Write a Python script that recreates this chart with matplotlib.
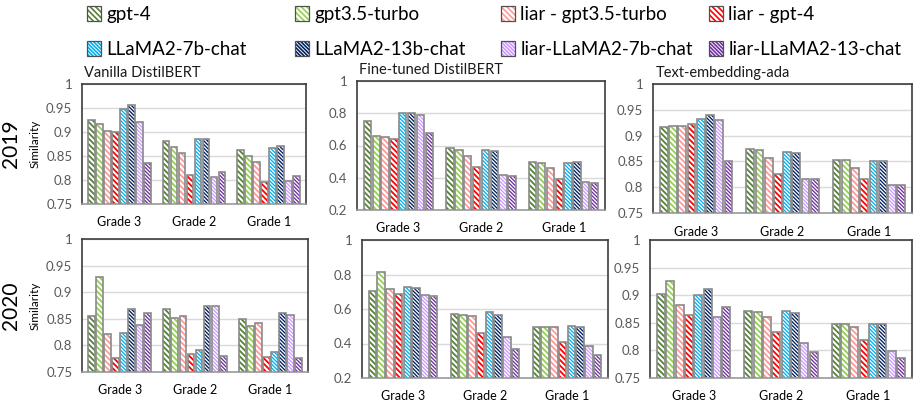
import numpy as np
import matplotlib
matplotlib.use("Agg")
import matplotlib.pyplot as plt
from matplotlib.patches import Patch
from matplotlib.legend_handler import HandlerTuple
from matplotlib.ticker import FuncFormatter

plt.rcParams['font.family'] = ['Lato', 'DejaVu Sans']
plt.rcParams['hatch.linewidth'] = 1.2

categories = ['Grade 3', 'Grade 2', 'Grade 1']
series_names = ['gpt-4', 'gpt3.5-turbo', 'liar - gpt3.5-turbo', 'liar - gpt-4',
                'LLaMA2-7b-chat', 'LLaMA2-13b-chat', 'liar-LLaMA2-7b-chat', 'liar-LLaMA2-13-chat']
series_colors = ['#548235', '#92d050', '#ff9999', '#ff0000',
                 '#00b0f0', '#002060', '#cc99ff', '#7030a0']
series_hatches = ['\\' * 6] * 4 + ['\\' * 9] * 4
series_hatch_lw = [1.3] * 4 + [0.95] * 4

# rows = series (same order as series_names), columns = Grade 3, Grade 2, Grade 1
vanilla_2019 = [[0.925, 0.881, 0.862], [0.916, 0.869, 0.850], [0.903, 0.856, 0.838], [0.900, 0.810, 0.796],
                [0.948, 0.886, 0.867], [0.956, 0.886, 0.871], [0.921, 0.806, 0.797], [0.836, 0.816, 0.809]]
finetuned_2019 = [[0.753, 0.584, 0.497], [0.660, 0.573, 0.491], [0.652, 0.534, 0.458], [0.642, 0.464, 0.394],
                  [0.800, 0.571, 0.491], [0.804, 0.565, 0.499], [0.788, 0.419, 0.371], [0.679, 0.408, 0.369]]
ada_2019 = [[0.917, 0.874, 0.853], [0.919, 0.872, 0.852], [0.918, 0.856, 0.837], [0.923, 0.826, 0.815],
            [0.933, 0.868, 0.850], [0.940, 0.866, 0.850], [0.930, 0.815, 0.804], [0.850, 0.815, 0.805]]
vanilla_2020 = [[0.856, 0.868, 0.849], [0.929, 0.851, 0.836], [0.822, 0.856, 0.843], [0.776, 0.784, 0.778],
                [0.824, 0.792, 0.788], [0.869, 0.874, 0.860], [0.839, 0.875, 0.858], [0.860, 0.781, 0.776]]
finetuned_2020 = [[0.707, 0.571, 0.497], [0.812, 0.563, 0.495], [0.718, 0.557, 0.494], [0.688, 0.460, 0.410],
                  [0.729, 0.580, 0.503], [0.723, 0.563, 0.495], [0.684, 0.440, 0.383], [0.674, 0.367, 0.335]]
ada_2020 = [[0.902, 0.872, 0.848], [0.926, 0.869, 0.847], [0.882, 0.861, 0.843], [0.865, 0.833, 0.819],
            [0.900, 0.871, 0.847], [0.911, 0.868, 0.847], [0.860, 0.813, 0.799], [0.878, 0.798, 0.787]]

panel_titles = ['Vanilla DistilBERT', 'Fine-tuned DistilBERT', 'Text-embedding-ada']
year_labels = ['2019', '2020']
ticks_sim = [0.75, 0.8, 0.85, 0.9, 0.95, 1.0]
ticks_ft = [0.2, 0.4, 0.6, 0.8, 1.0]

W, H = 915, 401
fig = plt.figure(figsize=(W / 100, H / 100), dpi=100)

def box(l, t, r, b):
    return [l / W, 1 - b / H, (r - l) / W, (b - t) / H]

def set_hlw(p, lw):
    if hasattr(p, 'set_hatch_linewidth'):
        try:
            p.set_hatch_linewidth(lw)
        except Exception:
            pass

panels = [
    (box(82, 84, 306, 204), vanilla_2019, ticks_sim, panel_titles[0]),
    (box(357, 81, 605, 210), finetuned_2019, ticks_ft, panel_titles[1]),
    (box(653, 84, 912, 213), ada_2019, ticks_sim, panel_titles[2]),
    (box(82, 239, 308, 372), vanilla_2020, ticks_sim, None),
    (box(362, 240, 608, 378), finetuned_2020, ticks_ft, None),
    (box(650, 240, 912, 378), ada_2020, ticks_sim, None),
]

fmt = FuncFormatter(lambda v, p: ('%g' % round(v, 3)))
x = np.arange(len(categories))
step, bw = 0.107, 0.09
axes = []
for pos, data, ticks, title in panels:
    ax = fig.add_axes(pos)
    axes.append(ax)
    for i, vals in enumerate(data):
        xs = x + (i - 3.5) * step
        bars = ax.bar(xs, vals, bw, bottom=0, color='white', edgecolor=series_colors[i],
                      hatch=series_hatches[i], linewidth=0, zorder=2)
        for b in bars:
            set_hlw(b, series_hatch_lw[i])
        ax.bar(xs, vals, bw, color='none', edgecolor='#8a8a8a', linewidth=1.2, zorder=3)
    ax.set_ylim(ticks[0], ticks[-1])
    ax.set_xlim(-0.5, 2.5)
    ax.set_yticks(ticks)
    ax.yaxis.set_major_formatter(fmt)
    ax.set_xticks(x)
    ax.set_xticklabels(categories)
    ax.tick_params(axis='both', length=0)
    ax.tick_params(axis='y', labelsize=9.5, labelcolor='#595959', pad=7)
    ax.tick_params(axis='x', labelsize=9, labelcolor='#000000', pad=9)
    ax.grid(axis='y', color='#d9d9d9', linewidth=1, zorder=0)
    ax.set_axisbelow(True)
    for s in ['top', 'left', 'right']:
        ax.spines[s].set_color('#3c3c3c')
        ax.spines[s].set_linewidth(1.2)
    ax.spines['bottom'].set_color('#9a9a9a')
    ax.spines['bottom'].set_linewidth(1.2)
    if title:
        ax.text(0.01, 1.03, title, transform=ax.transAxes, fontsize=10.5,
                ha='left', va='bottom', color='#1a1a1a')

for ax, yr in [(axes[0], year_labels[0]), (axes[3], year_labels[1])]:
    ax.set_ylabel('Similarity', fontsize=8.5, labelpad=4)
    ax.text(-0.315, 0.5, yr, transform=ax.transAxes, rotation=90, fontsize=15,
            ha='center', va='center')

# legend: one legend per column, two rows each
col_x = [88, 296, 502, 710]
for c in range(4):
    handles, labels = [], []
    for r in range(2):
        i = r * 4 + c
        hp = Patch(facecolor='white', edgecolor=series_colors[i], hatch=series_hatches[i], linewidth=0)
        set_hlw(hp, series_hatch_lw[i])
        bp = Patch(facecolor='none', edgecolor='#505050', linewidth=0.9)
        handles.append((hp, bp))
        labels.append(series_names[i])
    fig.legend(handles=handles, labels=labels, loc='upper left',
               handler_map={tuple: HandlerTuple(ndivide=1, pad=0)},
               bbox_to_anchor=((col_x[c] - 5) / W, 1 - 2 / H),
               frameon=False, fontsize=13.5, handlelength=0.75, handleheight=0.85,
               handletextpad=0.3, labelspacing=0.95, borderpad=0.2, borderaxespad=0)

fig.savefig('out.png', dpi=100)
